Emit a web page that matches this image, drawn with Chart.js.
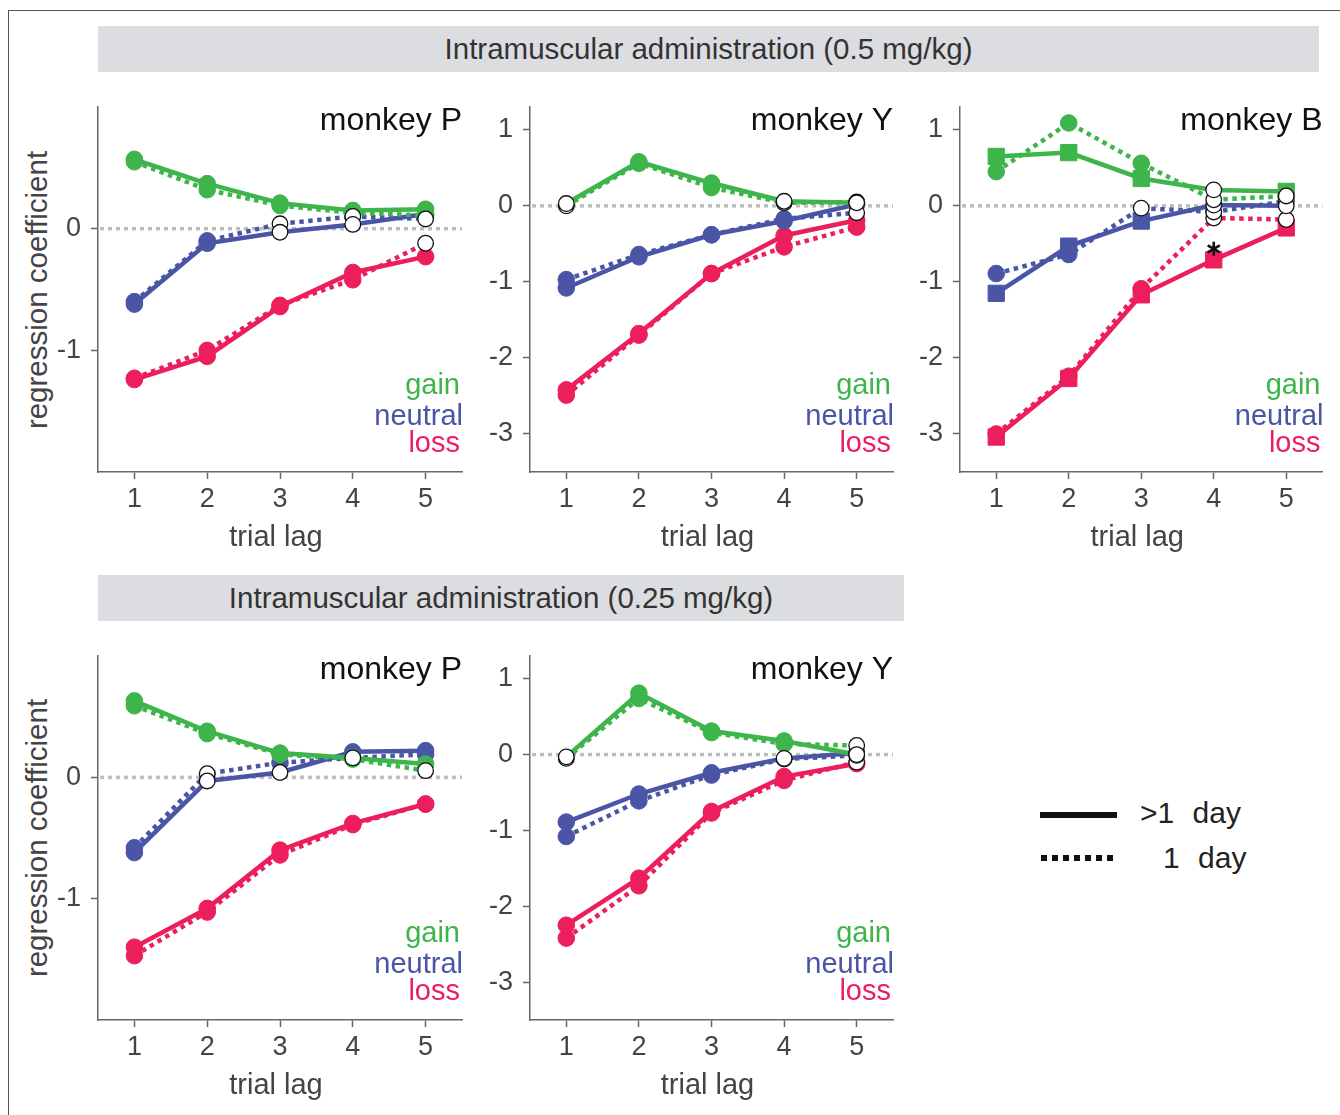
<!DOCTYPE html>
<html>
<head>
<meta charset="utf-8">
<title>Regression coefficients by trial lag</title>
<script src="https://cdn.jsdelivr.net/npm/chart.js@4.4.1/dist/chart.umd.min.js"></script>
<style>
  body { margin: 0; background: #fff; font-family: "Liberation Sans", Arial, sans-serif; }
  #page { position: relative; width: 1340px; height: 1115px; overflow: hidden; }
  .frame { position: absolute; left: 8px; top: 10px; width: 1400px; height: 1200px;
           border-left: 1.5px solid #555; border-top: 1.5px solid #555; }
  .band { position: absolute; background: #dcdde0; color: #333; font-size: 29.5px;
          display: flex; align-items: center; justify-content: center; }
  .ylab { position: absolute; color: #444; font-size: 29.5px; white-space: nowrap;
          transform: translate(-50%, -50%) rotate(-90deg); }
  .leg-line { position: absolute; height: 6px; }
  .leg-text { position: absolute; color: #222; font-size: 30px; word-spacing: 10px;
              transform: translateY(-50%); white-space: nowrap; }
  canvas { position: absolute; }
</style>
</head>
<body>
<div id="page">
  <div class="frame"></div>

  <div class="band" style="left:98px; top:26px; width:1221px; height:46px;">Intramuscular administration (0.5 mg/kg)</div>
  <div class="band" style="left:98px; top:575px; width:806px; height:46px;">Intramuscular administration (0.25 mg/kg)</div>

  <div class="ylab" style="left:37px; top:290px;">regression coefficient</div>
  <div class="ylab" style="left:37px; top:838px;">regression coefficient</div>

  <canvas id="c-topP"></canvas>
  <canvas id="c-topY"></canvas>
  <canvas id="c-topB"></canvas>
  <canvas id="c-botP"></canvas>
  <canvas id="c-botY"></canvas>

  <div class="leg-line" style="left:1040px; top:812px; width:77px; background:#111;"></div>
  <div class="leg-text" style="left:1140px; top:813px;">&gt;1 day</div>
  <div class="leg-line" style="left:1041px; top:855px; width:77px;
       background:repeating-linear-gradient(to right, #111 0 6px, transparent 6px 11px);"></div>
  <div class="leg-text" style="left:1163px; top:858px;">1 day</div>
</div>

<script>
/* Regression coefficients of past outcomes (gain / neutral / loss) by trial lag.
   "Long" = >1 day after injection (solid), "Day" = 1 day after (dotted).
   Open-circle indices mark non-significant coefficients. */

const LAGS = ["1", "2", "3", "4", "5"];

const GREEN = "#3db54a";
const BLUE = "#4a55a6";
const RED = "#ec1e5b";
const AXIS = "#666";
const TICK_TXT = "#444";
const FONT = "Liberation Sans, Arial, sans-serif";

// 0.5 mg/kg — monkey P
const topPGainLong    = [0.57, 0.37, 0.21, 0.15, 0.16];
const topPGainDay     = [0.55, 0.32, 0.19, 0.13, 0.11];
const topPNeutralLong = [-0.62, -0.12, -0.03, 0.035, 0.12];
const topPNeutralDay  = [-0.60, -0.10, 0.04, 0.10, 0.08];
const topPLossLong    = [-1.24, -1.05, -0.64, -0.36, -0.23];
const topPLossDay     = [-1.23, -1.00, -0.63, -0.42, -0.12];
const topPOpen = { neutralLong: [2, 3], neutralDay: [2, 3, 4], lossDay: [4] };

// 0.5 mg/kg — monkey Y
const topYGainLong    = [0.03, 0.58, 0.30, 0.06, 0.04];
const topYGainDay     = [0.00, 0.56, 0.24, 0.04, 0.05];
const topYNeutralLong = [-1.08, -0.67, -0.38, -0.20, 0.02];
const topYNeutralDay  = [-0.97, -0.64, -0.38, -0.17, -0.09];
const topYLossLong    = [-2.42, -1.68, -0.89, -0.39, -0.19];
const topYLossDay     = [-2.49, -1.70, -0.89, -0.54, -0.28];
const topYOpen = { gainLong: [0, 3, 4], gainDay: [0, 3, 4], neutralDay: [4] };

// 0.5 mg/kg — monkey B
const topBGainLong    = [0.65, 0.70, 0.36, 0.21, 0.19];
const topBGainDay     = [0.45, 1.09, 0.56, 0.08, 0.13];
const topBNeutralLong = [-1.15, -0.53, -0.20, 0.01, 0.00];
const topBNeutralDay  = [-0.89, -0.64, -0.03, -0.08, 0.06];
const topBLossLong    = [-3.04, -2.27, -1.17, -0.71, -0.29];
const topBLossDay     = [-3.00, -2.24, -1.09, -0.16, -0.18];
const topBOpen = { gainLong: [3], gainDay: [3, 4], neutralLong: [3, 4], neutralDay: [2, 3, 4], lossDay: [3, 4] };

// 0.25 mg/kg — monkey P
const botPGainLong    = [0.63, 0.38, 0.20, 0.16, 0.11];
const botPGainDay     = [0.59, 0.36, 0.19, 0.15, 0.055];
const botPNeutralLong = [-0.62, -0.03, 0.04, 0.21, 0.22];
const botPNeutralDay  = [-0.58, 0.03, 0.12, 0.16, 0.19];
const botPLossLong    = [-1.40, -1.08, -0.60, -0.38, -0.22];
const botPLossDay     = [-1.47, -1.11, -0.64, -0.39, -0.22];
const botPOpen = { gainDay: [4], neutralLong: [1, 2], neutralDay: [1, 3] };

// 0.25 mg/kg — monkey Y
const botYGainLong    = [-0.03, 0.81, 0.31, 0.18, 0.00];
const botYGainDay     = [-0.05, 0.74, 0.29, 0.14, 0.12];
const botYNeutralLong = [-0.89, -0.52, -0.24, -0.05, 0.02];
const botYNeutralDay  = [-1.08, -0.61, -0.27, -0.06, -0.01];
const botYLossLong    = [-2.25, -1.63, -0.75, -0.29, -0.12];
const botYLossDay     = [-2.42, -1.73, -0.77, -0.34, -0.10];
const botYOpen = { gainLong: [0, 4], gainDay: [0, 4], neutralLong: [3, 4], neutralDay: [3, 4], lossDay: [4] };

const TICKS_P = [-1, 0];
const TICKS_YB = [-3, -2, -1, 0, 1];

// box = [left, top, right, bottom] of the plot area on the page
const PANELS = [
  { id: "c-topP", name: "monkey P", box: [98, 107, 462, 472], yMin: -2, yMax: 1, yTicks: TICKS_P,
    series: { gainLong: topPGainLong, gainDay: topPGainDay, neutralLong: topPNeutralLong,
              neutralDay: topPNeutralDay, lossLong: topPLossLong, lossDay: topPLossDay },
    open: topPOpen },
  { id: "c-topY", name: "monkey Y", box: [530, 107, 893, 472], yMin: -3.5, yMax: 1.3, yTicks: TICKS_YB,
    series: { gainLong: topYGainLong, gainDay: topYGainDay, neutralLong: topYNeutralLong,
              neutralDay: topYNeutralDay, lossLong: topYLossLong, lossDay: topYLossDay },
    open: topYOpen },
  { id: "c-topB", name: "monkey B", box: [960, 107, 1325, 472], yMin: -3.5, yMax: 1.3, yTicks: TICKS_YB,
    square: true, star: 3,
    series: { gainLong: topBGainLong, gainDay: topBGainDay, neutralLong: topBNeutralLong,
              neutralDay: topBNeutralDay, lossLong: topBLossLong, lossDay: topBLossDay },
    open: topBOpen },
  { id: "c-botP", name: "monkey P", box: [98, 656, 462, 1020], yMin: -2, yMax: 1, yTicks: TICKS_P,
    series: { gainLong: botPGainLong, gainDay: botPGainDay, neutralLong: botPNeutralLong,
              neutralDay: botPNeutralDay, lossLong: botPLossLong, lossDay: botPLossDay },
    open: botPOpen },
  { id: "c-botY", name: "monkey Y", box: [530, 656, 893, 1020], yMin: -3.5, yMax: 1.3, yTicks: TICKS_YB,
    series: { gainLong: botYGainLong, gainDay: botYGainDay, neutralLong: botYNeutralLong,
              neutralDay: botYNeutralDay, lossLong: botYLossLong, lossDay: botYLossDay },
    open: botYOpen },
];

const Y_AXIS_W = 60;
const X_AXIS_H = 45;
// top padding is large enough that the y scale's own label padding never pushes the plot down
const PAD = { top: 40, right: 10, bottom: 50, left: 0 };

function buildDatasets(panel) {
  const ds = [];
  [["gain", GREEN], ["neutral", BLUE], ["loss", RED]].forEach(([key, color]) => {
    ["Long", "Day"].forEach((kind) => {
      const name = key + kind;
      const vals = panel.series[name];
      const open = panel.open[name] || [];
      const isLong = kind === "Long";
      const style = isLong && panel.square ? "rect" : "circle";
      const r = style === "rect" ? 11.5 : 8.3;
      ds.push({
        label: name,
        data: vals,
        borderColor: color,
        backgroundColor: color,
        borderWidth: 4.5,
        borderDash: isLong ? [] : [4.5, 4.5],
        tension: 0,
        pointStyle: style,
        pointRadius: vals.map((_, i) => (open.includes(i) ? 0 : r)),
        pointBackgroundColor: color,
        pointBorderColor: color,
        pointBorderWidth: 1,
        order: 2,
      });
      if (open.length) {
        ds.push({
          label: name + " n.s.",
          data: vals.map((v, i) => (open.includes(i) ? v : null)),
          showLine: false,
          pointStyle: "circle",
          pointRadius: 7.8,
          pointBackgroundColor: "#fff",
          pointBorderColor: "#111",
          pointBorderWidth: 1.3,
          order: 1,
        });
      }
    });
  });
  return ds;
}

// zero reference line, panel labels, axis title, significance star
const panelText = {
  id: "panelText",
  beforeDatasetsDraw(chart) {
    const { ctx, chartArea: a, scales } = chart;
    const y0 = scales.y.getPixelForValue(0);
    ctx.save();
    ctx.strokeStyle = "#bdbdbd";
    ctx.lineWidth = 3.5;
    ctx.setLineDash([4, 4]);
    ctx.beginPath();
    ctx.moveTo(a.left + 2, y0);
    ctx.lineTo(a.right, y0);
    ctx.stroke();
    ctx.restore();
  },
  afterDraw(chart, args, opts) {
    const { ctx, chartArea: a, scales } = chart;
    ctx.save();
    ctx.textBaseline = "middle";
    ctx.textAlign = "right";
    ctx.font = `32px ${FONT}`;
    ctx.fillStyle = "#111";
    ctx.fillText(opts.name, a.right, a.top + 14);

    ctx.font = `29px ${FONT}`;
    ctx.fillStyle = GREEN;
    ctx.fillText("gain", a.right - 2, a.bottom - 86);
    ctx.fillStyle = BLUE;
    ctx.fillText("neutral", a.right + 1, a.bottom - 55);
    ctx.fillStyle = RED;
    ctx.fillText("loss", a.right - 2, a.bottom - 28);

    ctx.textAlign = "center";
    ctx.font = `29px ${FONT}`;
    ctx.fillStyle = TICK_TXT;
    ctx.fillText("trial lag", (a.left + a.right) / 2 - 4, a.bottom + 66);

    if (opts.star !== undefined) {
      const x = scales.x.getPixelForValue(opts.star);
      const y = scales.y.getPixelForValue(opts.lossLong[opts.star]) - 11;
      ctx.strokeStyle = "#111";
      ctx.lineWidth = 2.6;
      ctx.beginPath();
      [90, 30, 150].forEach((deg) => {
        const t = (deg * Math.PI) / 180;
        ctx.moveTo(x - 7 * Math.cos(t), y - 7 * Math.sin(t));
        ctx.lineTo(x + 7 * Math.cos(t), y + 7 * Math.sin(t));
      });
      ctx.stroke();
    }
    ctx.restore();
  },
};

function axisOpts(extra) {
  return Object.assign({
    grid: { display: true, drawOnChartArea: false, drawTicks: true, tickLength: 7,
            tickColor: AXIS, tickWidth: 1.5 },
    border: { display: true, color: AXIS, width: 1.5 },
  }, extra);
}

function makePanel(panel) {
  const [l, t, r, b] = panel.box;
  const canvas = document.getElementById(panel.id);
  const w = r - l + Y_AXIS_W + PAD.right;
  const h = b - t + PAD.top + X_AXIS_H + PAD.bottom;
  canvas.width = w;
  canvas.height = h;
  canvas.style.left = l - Y_AXIS_W + "px";
  canvas.style.top = t - PAD.top + "px";
  canvas.style.width = w + "px";
  canvas.style.height = h + "px";

  new Chart(canvas.getContext("2d"), {
    type: "line",
    data: { labels: LAGS, datasets: buildDatasets(panel) },
    options: {
      responsive: false,
      animation: false,
      events: [],
      layout: { padding: PAD },
      plugins: {
        legend: { display: false },
        tooltip: { enabled: false },
        panelText: { name: panel.name, star: panel.star, lossLong: panel.series.lossLong },
      },
      scales: {
        x: axisOpts({
          type: "category",
          offset: true,
          grid: { display: true, drawOnChartArea: false, drawTicks: true, tickLength: 7,
                  tickColor: AXIS, tickWidth: 1.5, offset: false },
          ticks: { color: TICK_TXT, font: { family: FONT, size: 27 }, padding: 4, maxRotation: 0 },
          afterFit: (s) => { s.height = X_AXIS_H; },
        }),
        y: axisOpts({
          type: "linear",
          min: panel.yMin,
          max: panel.yMax,
          afterBuildTicks: (s) => { s.ticks = panel.yTicks.map((v) => ({ value: v })); },
          ticks: { color: TICK_TXT, font: { family: FONT, size: 27 }, padding: 10 },
          afterFit: (s) => { s.width = Y_AXIS_W; },
        }),
      },
    },
    plugins: [panelText],
  });
}

PANELS.forEach(makePanel);
</script>
</body>
</html>
